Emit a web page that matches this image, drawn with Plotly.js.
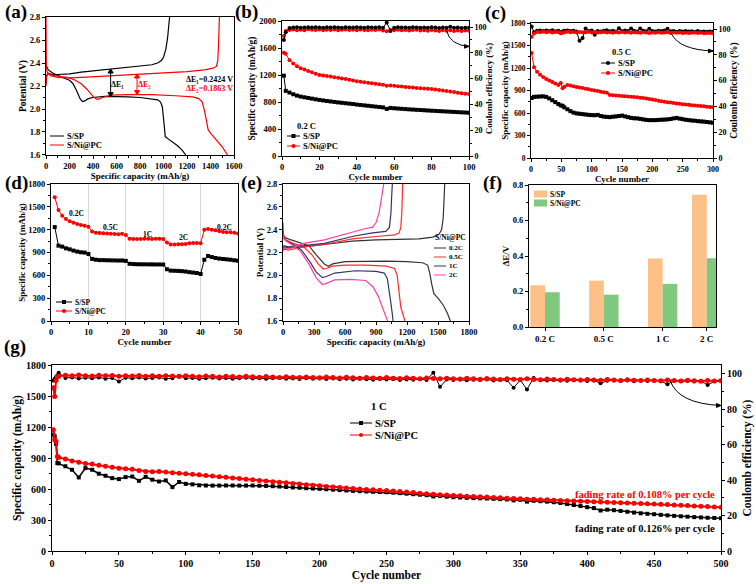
<!DOCTYPE html>
<html><head><meta charset="utf-8">
<script src="https://cdn.plot.ly/plotly-3.0.1.min.js"></script>
<style>html,body{margin:0;padding:0;background:#fff}#chart{width:756px;height:584px}</style>
</head><body><div id="chart"></div>
<script>
// ---------- (a) charge/discharge profiles at 0.2 C ----------
const aSpDisCap = [0, 20, 60, 100, 150, 200, 230, 260, 290, 310, 330, 360, 400, 500, 600, 700, 800, 900, 950, 975, 990, 1000, 1008, 1015, 1040, 1080, 1120, 1160, 1190];
const aSpDisV   = [2.38, 2.34, 2.31, 2.29, 2.27, 2.25, 2.22, 2.16, 2.09, 2.065, 2.07, 2.09, 2.10, 2.11, 2.11, 2.105, 2.10, 2.09, 2.08, 2.06, 2.02, 1.92, 1.80, 1.76, 1.74, 1.71, 1.68, 1.64, 1.60];
const aSpChgCap = [0, 5, 20, 60, 100, 200, 300, 400, 500, 600, 700, 800, 900, 950, 980, 1000, 1020, 1035, 1045, 1052];
const aSpChgV   = [2.22, 2.29, 2.31, 2.30, 2.30, 2.305, 2.32, 2.33, 2.34, 2.35, 2.36, 2.37, 2.385, 2.40, 2.42, 2.45, 2.52, 2.62, 2.72, 2.80];
const aNiDisCap = [0, 3, 10, 30, 80, 150, 200, 250, 300, 350, 400, 430, 450, 480, 550, 700, 900, 1100, 1250, 1300, 1330, 1350, 1365, 1380, 1400, 1450, 1500, 1545];
const aNiDisV   = [2.80, 2.36, 2.32, 2.30, 2.29, 2.28, 2.27, 2.25, 2.22, 2.17, 2.11, 2.085, 2.085, 2.10, 2.12, 2.125, 2.125, 2.115, 2.105, 2.09, 2.06, 1.98, 1.88, 1.82, 1.79, 1.73, 1.67, 1.60];
const aNiChgCap = [0, 5, 15, 40, 100, 200, 300, 400, 500, 600, 800, 1000, 1200, 1350, 1420, 1450, 1462, 1468, 1472, 1476];
const aNiChgV   = [2.20, 2.28, 2.31, 2.29, 2.275, 2.27, 2.275, 2.28, 2.29, 2.295, 2.305, 2.315, 2.325, 2.34, 2.355, 2.37, 2.42, 2.55, 2.68, 2.80];

// ---------- (b) cycling at 0.2 C ----------
const bCycles = [1,2,4,6,8,10,12,14,16,18,20,22,24,26,28,30,32,34,36,38,40,42,44,46,48,50,52,54,56,58,60,62,64,66,68,70,72,74,76,78,80,82,84,86,88,90,92,94,96,98,100];
const bSpCap = [1190,965,940,915,895,880,870,860,850,840,831,823,815,808,801,794,788,782,776,770,762,756,750,744,738,732,726,720,698,712,707,703,699,695,691,688,684,681,678,674,671,668,665,662,659,656,653,650,647,644,641];
const bNiCap = [1530,1515,1420,1370,1330,1300,1280,1260,1240,1220,1200,1192,1185,1176,1168,1160,1150,1140,1130,1118,1108,1100,1093,1086,1079,1072,1064,1056,1040,1046,1040,1034,1029,1024,1019,1014,1009,1004,1000,996,992,986,979,972,964,956,947,938,930,924,918];
const bSpCe = [90,96,99.3,99.6,99.8,99.5,99.7,99.9,99.6,99.8,99.7,99.5,99.8,99.6,99.9,99.7,99.5,99.8,99.6,99.7,99.9,99.6,99.5,99.8,99.7,99.6,99.9,99.4,103.5,97,99.5,99.8,99.6,99.7,99.5,99.8,99.6,99.4,99.7,99.5,99.8,99.6,99.3,99.7,99.5,100.2,99.4,99.6,99.3,99.5,99.4];
const bNiCe = [93,97,97.8,98.2,97.6,98.0,97.5,98.3,97.9,97.7,98.1,97.6,98.0,97.8,98.2,97.5,97.9,98.1,97.7,98.0,97.6,98.2,97.8,97.5,98.0,97.7,98.1,97.4,96.8,97.9,97.6,98.0,97.5,97.8,97.3,97.7,97.9,97.4,97.6,97.2,97.7,97.4,97.0,97.5,97.2,97.6,96.9,97.3,97.0,97.4,97.1];

// ---------- (c) cycling at 0.5 C ----------
const cCycles = [1,5,10,15,20,25,30,35,40,45,49,52,55,60,65,70,75,80,85,90,95,100,105,110,115,120,125,130,135,140,145,150,155,160,165,170,175,180,185,190,195,200,205,210,215,220,225,230,235,240,245,250,255,260,265,270,275,280,285,290,295,300];
const cSpCap = [800,815,818,820,822,815,795,770,745,720,702,695, 675,650,625,605,595,590,585,580,575,572, 570,575,560,552,548,545,550,555,560,565, 555,545,535,530,528,522,515,508,505,505, 505,508,510,512,515,520,528,535,525,518, 510,505,500,497,492,488,485,480,475,470];
const cNiCap = [1400,1210,1150,1110,1080,1055,1035,1015,995,975,1000,930, 950,975,968,958,948,940,932,924,916,908, 900,893,885,878,870,840,838,835,831,828, 825,821,818,814,810,805,800,794,788,780, 772,765,758,751,745,739,733,728,723,718, 714,710,705,701,697,693,689,685,681,678];
const cSpCe = [102,97.5,98.6,98.9,98.4,98.8,98.5,99.0,98.3,98.7,97.5,98.2, 98.6,98.9,98.4,98.7,98.2,91,93,100.5,98.4,98.8, 95.5,98.5,98.1,98.7,99.0,98.3,98.6,98.2,100.6,98.5, 98.8,98.4,100.5,98.6,98.2,100.4,98.7,98.3,100.3,98.5, 98.2,98.6,98.4,98.8,100.2,98.3,98.5,98.0,98.4,98.2, 98.5,98.1,98.3,98.0,98.4,97.9,98.2,98.0,98.1,97.9];
const cNiCe = [94,96.5,97.8,97.5,98.0,97.6,97.9,97.4,97.8,97.5,96.8,97.2, 97.6,97.9,97.5,97.7,97.3,97.8,97.5,97.6,97.9,97.4, 97.7,97.3,97.6,97.8,97.4,97.5,97.2,97.6,97.4,97.7, 97.3,97.5,97.2,97.6,97.4,97.1,97.5,97.3,97.0,97.4, 97.2,97.5,97.1,97.3,97.6,97.0,97.3,97.1,97.4,97.0, 97.2,96.9,97.1,97.3,96.9,97.1,96.8,97.0,96.9,96.8];

// ---------- (d) rate performance ----------
const dCycles = [1,2,3,4,5,6,7,8,9,10,11,12,13,14,15,16,17,18,19,20,21,22,23,24,25,26,27,28,29,30,31,32,33,34,35,36,37,38,39,40,41,42,43,44,45,46,47,48,49,50];
const dSpCap = [1234,990,977,955,942,925,912,903,899,881,816,805,800,800,798,797,796,795,795,790,752,748,746,745,745,744,744,743,743,742,680,662,660,658,655,650,642,636,630,618,805,855,840,828,820,815,810,805,798,792];
const dNiCap = [1625,1457,1383,1339,1310,1290,1275,1262,1252,1240,1175,1160,1155,1152,1150,1148,1142,1140,1145,1130,1080,1078,1078,1079,1080,1080,1079,1080,1080,1076,1030,1005,1005,1010,1008,1012,1020,1025,1025,1022,1198,1210,1200,1192,1180,1168,1165,1165,1160,1150];
const dRateLabels = ['0.2C','0.5C','1C','2C','0.2C'];
const dRateX = [6.7, 15.8, 25.7, 35.3, 46.3];
const dRateY = [1406, 1235, 1143, 1091, 1235];

// ---------- (e) S/Ni@PC profiles at different rates ----------
const eRates = ['0.2C','0.5C','1C','2C'];
const e02DisCap = [0,20,80,150,250,330,400,440,480,600,800,1000,1200,1350,1400,1420,1440,1460,1500,1550,1590,1620];
const e02DisV   = [2.36,2.33,2.31,2.29,2.26,2.17,2.10,2.08,2.10,2.12,2.125,2.125,2.12,2.11,2.09,2.02,1.92,1.84,1.80,1.74,1.67,1.60];
const e02ChgCap = [0,10,50,200,400,670,900,1100,1316,1450,1510,1535,1550,1558,1565];
const e02ChgV   = [2.23,2.25,2.24,2.25,2.27,2.30,2.31,2.315,2.32,2.335,2.36,2.40,2.50,2.65,2.80];
const e05DisCap = [0,5,30,100,200,280,340,390,420,480,600,800,1000,1080,1105,1115,1125,1140,1160,1180];
const e05DisV   = [2.46,2.35,2.31,2.28,2.25,2.18,2.10,2.055,2.06,2.08,2.09,2.09,2.08,2.06,2.0,1.90,1.80,1.72,1.66,1.60];
const e05ChgCap = [0,10,50,200,400,670,900,994,1080,1123,1140,1150,1155,1158];
const e05ChgV   = [2.21,2.23,2.22,2.25,2.27,2.32,2.34,2.345,2.355,2.37,2.42,2.55,2.70,2.80];
const e1DisCap = [0,30,100,180,260,320,380,420,500,700,900,980,1010,1030,1045,1058,1065];
const e1DisV   = [2.33,2.30,2.27,2.22,2.12,2.03,1.98,1.99,2.02,2.04,2.035,2.02,1.97,1.86,1.75,1.66,1.60];
const e1ChgCap = [0,10,50,200,400,670,850,994,1030,1045,1052,1058];
const e1ChgV   = [2.23,2.26,2.25,2.26,2.28,2.34,2.37,2.385,2.42,2.55,2.70,2.80];
const e2DisCap = [0,30,100,170,250,320,380,420,500,650,800,870,920,960,1000,1012];
const e2DisV   = [2.33,2.30,2.26,2.21,2.10,1.98,1.92,1.93,1.96,1.965,1.955,1.90,1.82,1.73,1.64,1.60];
const e2ChgCap = [0,10,50,200,400,550,670,800,865,900,930,950,965,975];
const e2ChgV   = [2.21,2.24,2.23,2.28,2.31,2.35,2.38,2.41,2.42,2.46,2.55,2.65,2.75,2.80];

// ---------- (f) polarization ----------
const fCats = ['0.2 C','0.5 C','1 C','2 C'];
const fSp = [0.235, 0.261, 0.386, 0.745];
const fNi = [0.196, 0.182, 0.243, 0.388];

// ---------- (g) long cycling at 1 C ----------
const gCycles = [1,2,3,4,5,10,15,20,25,30,35,40,45,50,55,60,65,70,75,80,85,90,95,100,105,110,115,120,125,130,135,140,145,150,155,160,165,170,175,180,185,190,195,200,205,210,215,220,225,230,235,240,245,250,255,260,265,270,275,280,285,290,295,300,305,310,315,320,325,330,335,340,345,350,355,360,365,370,375,380,385,390,395,400,405,410,415,420,425,430,435,440,445,450,455,460,465,470,475,480,485,490,495,500];
const gSpCap = [1126,1110,1038,851, 848,820,786,712,802,786,748,728,705,696, 715,721,679,718,690,673,683,618,668,650, 645,636,634,633,633,634,634,633,633,634, 632,630,627,624,619,615,612,608,605,602, 598,594,590,586,582,579,576,573,571,569, 565,560,555,550,545,540,528,532,526,521, 518,515,512,510,508,505,502,499,490,495, 478,486,482,478,472,465,455,445,435,424, 415,392,400,395,388,380,372,365,360,356, 350,345,340,336,332,328,325,322,320,317];
const gNiCap = [1174,1077,1060,915, 906,890,872,860,848,841,830,820,810,802, 797,792,780,770,768,770,765,757,752,747, 742,737,731,725,719,713,707,701,695,689, 683,677,671,665,660,654,648,642,637,631, 625,620,614,609,604,600,596,592,588,585, 580,575,570,565,560,555,550,545,541,537, 534,531,528,525,522,518,515,511,508,505, 502,500,497,495,492,489,487,484,482,479, 477,474,472,470,467,465,462,460,458,456, 452,449,446,443,440,436,433,430,427,424];
const gSpCe = [96,97,98,99, 100.5,97.5,97.8,97.2,97.6,97.4,97.8,97.1,97.5,95.5, 97.6,97.3,97.7,97.2,97.5,97.8,97.0,97.4,98.8,97.3, 97.5,97.1,97.4,97.6,97.2,97.5,97.0,97.3,97.6,97.2, 97.4,97.0,97.3,97.5,97.1,97.2,96.9,97.3,97.0,97.2, 96.9,97.2,96.8,97.1,96.7,97.0,96.8,96.5,96.9,96.6, 96.8,96.4,96.7,96.5,96.8,96.3,100.5,92.5,96.6,96.4, 96.6,96.2,96.5,96.3,96.6,96.1,96.4,96.2,92,96.3, 91,97.5,96.2,96.0,96.3,96.1,95.9,96.2,96.0,95.8, 96.1,94.5,95.9,96.1,95.8,96.0,95.7,96.0,95.8,96.1, 95.7,94,95.9,95.6,95.8,95.5,95.8,93.5,95.6,95.7];
const gNiCe = [92,87,96,98, 98.5,99.0,98.7,99.1,98.8,98.6,99.0,98.7,98.9,98.5, 98.8,98.6,98.9,98.5,98.7,98.4,98.8,98.6,98.3,98.7, 98.5,98.2,98.6,98.4,98.1,98.5,98.3,98.0,98.4,98.2, 97.9,98.3,98.0,97.8,98.2,97.9,97.7,98.1,97.8,97.6, 98.0,97.7,97.5,97.9,97.6,97.4,97.8,97.5,97.3,97.7, 97.4,97.2,97.6,97.3,97.1,97.5,97.2,97.0,97.4,97.1, 96.9,97.3,97.0,96.8,97.2,96.9,96.7,97.1,96.8,96.6, 97.0,96.7,96.5,96.9,96.6,96.4,96.8,96.5,96.3,96.7, 96.4,96.2,96.6,96.3,96.1,96.5,96.2,96.0,96.4,96.1, 95.9,96.3,96.0,95.8,96.2,95.9,95.7,96.1,95.8,96.0];

// ---------- drawing ----------
const W = 756, H = 584;
const px = v => v / W, py = v => 1 - v / H;
const FONT = '"Liberation Serif","Times New Roman",serif';
const BLACK = '#000000', RED = '#ff0000';
const eColors = ['#333333', '#ff2a2a', '#33336b', '#ff3f9f'];
const fColors = ['#fdc086', '#7fc97f'];
const fSlots = [0, 4, 8, 11];

const traces = [];
function curve(x, y, xa, ya, color, name) {
  traces.push({type:'scatter', mode:'lines', x, y, xaxis:xa, yaxis:ya, name, showlegend:false,
    line:{color, width:1.2}, hoverinfo:'skip'});
}
function series(x, y, xa, ya, color, symbol, name, size, lw) {
  traces.push({type:'scatter', mode:'lines+markers', x, y, xaxis:xa, yaxis:ya, name, showlegend:false,
    line:{color, width:lw || 1}, marker:{color, symbol, size:size || 4, line:{width:0}}, hoverinfo:'skip'});
}
// (a)
curve(aSpChgCap, aSpChgV, 'x', 'y', BLACK, 'S/SP');
curve(aSpDisCap, aSpDisV, 'x', 'y', BLACK, 'S/SP');
curve(aNiChgCap, aNiChgV, 'x', 'y', RED, 'S/Ni@PC');
curve(aNiDisCap, aNiDisV, 'x', 'y', RED, 'S/Ni@PC');
// (b)
series(bCycles, bNiCe, 'x2', 'y3', RED, 'circle', 'S/Ni@PC CE');
series(bCycles, bSpCe, 'x2', 'y3', BLACK, 'circle', 'S/SP CE');
series(bCycles, bSpCap, 'x2', 'y2', BLACK, 'square', 'S/SP');
series(bCycles, bNiCap, 'x2', 'y2', RED, 'circle', 'S/Ni@PC');
// (c)
series(cCycles, cSpCe, 'x3', 'y5', BLACK, 'circle', 'S/SP CE');
series(cCycles, cNiCe, 'x3', 'y5', RED, 'circle', 'S/Ni@PC CE');
series(cCycles, cSpCap, 'x3', 'y4', BLACK, 'square', 'S/SP');
series(cCycles, cNiCap, 'x3', 'y4', RED, 'circle', 'S/Ni@PC');
// (d)
series(dCycles, dSpCap, 'x4', 'y6', BLACK, 'square', 'S/SP');
series(dCycles, dNiCap, 'x4', 'y6', RED, 'circle', 'S/Ni@PC');
// (e)
const eDis = [[e02DisCap,e02DisV],[e05DisCap,e05DisV],[e1DisCap,e1DisV],[e2DisCap,e2DisV]];
const eChg = [[e02ChgCap,e02ChgV],[e05ChgCap,e05ChgV],[e1ChgCap,e1ChgV],[e2ChgCap,e2ChgV]];
eRates.forEach((r, i) => {
  curve(eChg[i][0], eChg[i][1], 'x5', 'y7', eColors[i], r);
  curve(eDis[i][0], eDis[i][1], 'x5', 'y7', eColors[i], r);
});
// (f)
traces.push({type:'bar', x:fSlots, y:fSp, xaxis:'x6', yaxis:'y8', name:'S/SP', width:1, offset:-1,
  marker:{color:fColors[0], line:{width:0}}, showlegend:false, customdata:fCats, hoverinfo:'skip'});
traces.push({type:'bar', x:fSlots, y:fNi, xaxis:'x6', yaxis:'y8', name:'S/Ni@PC', width:1, offset:0,
  marker:{color:fColors[1], line:{width:0}}, showlegend:false, customdata:fCats, hoverinfo:'skip'});
// (g)
series(gCycles, gSpCe, 'x7', 'y10', BLACK, 'circle', 'S/SP CE', 4);
series(gCycles, gNiCe, 'x7', 'y10', RED, 'circle', 'S/Ni@PC CE', 5, 2);
series(gCycles, gSpCap, 'x7', 'y9', BLACK, 'square', 'S/SP', 4, 1.5);
series(gCycles, gNiCap, 'x7', 'y9', RED, 'circle', 'S/Ni@PC', 5, 2);

// axes
function tfont(s) { return {family:FONT, size:s, color:BLACK, weight:'bold'}; }
function axis(o) {
  const base = {showline:true, linecolor:BLACK, linewidth:1, mirror:true, ticks:'outside', ticklen:3,
    tickwidth:1, tickcolor:BLACK, showgrid:false, zeroline:false, tickfont:tfont(o.fs || 8.5),
    fixedrange:true};
  if (o.minor) base.minor = {ticks:'outside', ticklen:2, tickcolor:BLACK, dtick:o.minor};
  if (o.title) base.title = {text:o.title, font:tfont(o.tfs || 9), standoff:o.so == null ? 1 : o.so};
  return Object.assign(base, o.ax);
}
const layout = {
  width:W, height:H, margin:{l:0, r:0, t:0, b:0}, paper_bgcolor:'#fff', plot_bgcolor:'#fff',
  showlegend:false, barmode:'overlay', font:{family:FONT, color:BLACK},
  // (a)
  xaxis: axis({title:'Specific capacity (mAh/g)', minor:100, ax:{domain:[px(46),px(234)], anchor:'y', range:[0,1600], dtick:200}}),
  yaxis: axis({title:'Potential (V)', tfs:9.5, minor:0.1, ax:{domain:[py(155),py(17)], anchor:'x', range:[1.5999,2.8001], dtick:0.2, tickformat:'.1f'}}),
  // (b)
  xaxis2: axis({title:'Cycle number', minor:10, ax:{domain:[px(282),px(469)], anchor:'y2', range:[0,100], dtick:20}}),
  yaxis2: axis({title:'Specific capacity (mAh/g)', tfs:9.5, minor:200, ax:{domain:[py(156),py(21)], anchor:'x2', range:[0,2000.1], dtick:400}}),
  yaxis3: axis({title:'Coulomb efficiency (%)', tfs:9, so:0, fs:8, minor:10, ax:{overlaying:'y2', side:'right', anchor:'x2', range:[0,104.7], dtick:20, mirror:false}}),
  // (c)
  xaxis3: axis({title:'Cycle number', fs:8, minor:25, ax:{domain:[px(531),px(713)], anchor:'y4', range:[0,300], dtick:50}}),
  yaxis4: axis({title:'Specific capacity (mAh/g)', tfs:9, so:0, fs:7.5, minor:150, ax:{domain:[py(158),py(23)], anchor:'x3', range:[0,1800.1], dtick:300}}),
  yaxis5: axis({title:'Coulomb efficiency (%)', tfs:9.5, so:0, fs:8, minor:10, ax:{overlaying:'y4', side:'right', anchor:'x3', range:[0,104.7], dtick:20, mirror:false}}),
  // (d)
  xaxis4: axis({title:'Cycle number', minor:5, ax:{domain:[px(51),px(238)], anchor:'y6', range:[0,50], dtick:10, showgrid:true, gridcolor:'#d8d8d8', gridwidth:1}}),
  yaxis6: axis({title:'Specific capacity (mAh/g)', minor:150, ax:{domain:[py(321),py(184)], anchor:'x4', range:[0,1800.1], dtick:300}}),
  // (e)
  xaxis5: axis({title:'Specific capacity (mAh/g)', minor:150, ax:{domain:[px(283),px(469)], anchor:'y7', range:[0,1800], dtick:300}}),
  yaxis7: axis({title:'Potential (V)', minor:0.1, ax:{domain:[py(321),py(184)], anchor:'x5', range:[1.5999,2.8001], dtick:0.2, tickformat:'.1f'}}),
  // (f)
  xaxis6: axis({fs:9, ax:{domain:[px(529),px(716)], anchor:'y8', range:[-1.09,11.63], tickvals:fSlots, ticktext:fCats}}),
  yaxis8: axis({title:'ΔE/V', minor:0.1, ax:{domain:[py(327),py(185)], anchor:'x6', range:[0,0.8001], dtick:0.2, tickformat:'.1f'}}),
  // (g)
  xaxis7: axis({title:'Cycle number', fs:10, tfs:11.5, minor:25, ax:{domain:[px(52),px(721)], anchor:'y9', range:[0,500], dtick:50}}),
  yaxis9: axis({title:'Specific capacity (mAh/g)', fs:10, tfs:11.5, minor:150, ax:{domain:[py(551),py(365)], anchor:'x7', range:[0,1800.1], dtick:300}}),
  yaxis10: axis({title:'Coulomb efficiency (%)', fs:10, tfs:11.5, minor:10, ax:{overlaying:'y9', side:'right', anchor:'x7', range:[0,104.8], dtick:20, mirror:false}}),
  shapes:[], annotations:[]
};
const S = layout.shapes, A = layout.annotations;
function txt(text, x, y, o) {
  A.push(Object.assign({text, x, y, xref:'paper', yref:'paper', showarrow:false, xanchor:'center', yanchor:'middle',
    borderpad:0, font:tfont(9)}, o || {}));
}
// panel labels
[['(a)',16,12],['(b)',246,12],['(c)',495,13],['(d)',16,183],['(e)',251,183],['(f)',492,183],['(g)',15,347]]
  .forEach(([t,x,y]) => txt(t, px(x), py(y), {font:tfont(19)}));

// manual legends
function legendItem(x0, x1, y, color, symbol, label, fs) {
  S.push({type:'line', xref:'paper', yref:'paper', x0:px(x0), x1:px(x1), y0:py(y), y1:py(y), line:{color, width:1}});
  const m = (x0 + x1) / 2, r = 2;
  if (symbol) S.push({type:symbol === 'square' ? 'rect' : 'circle', xref:'paper', yref:'paper',
    x0:px(m - r), x1:px(m + r), y0:py(y + r), y1:py(y - r), fillcolor:color, line:{width:0}});
  txt(label, px(x1 + 2), py(y), {xanchor:'left', font:tfont(fs)});
}
// (a)
legendItem(50, 64, 136, BLACK, null, 'S/SP', 8.5);
legendItem(50, 64, 145, RED, null, 'S/Ni@PC', 8.5);
// (b)
txt('0.2 C', px(306), py(126), {font:tfont(8.5)});
legendItem(287, 300, 136, BLACK, 'square', 'S/SP', 8.5);
legendItem(287, 300, 146, RED, 'circle', 'S/Ni@PC', 8.5);
// (c)
txt('0.5 C', px(621), py(52), {font:tfont(8.5)});
legendItem(601, 615, 63, BLACK, 'circle', 'S/SP', 8.5);
legendItem(601, 615, 73, RED, 'circle', 'S/Ni@PC', 8.5);
// (d)
legendItem(56, 72, 302, BLACK, 'square', 'S/SP', 7.5);
legendItem(56, 72, 311, RED, 'circle', 'S/Ni@PC', 7.5);
dRateLabels.forEach((t, i) => A.push({text:t, x:dRateX[i], y:dRateY[i], xref:'x4', yref:'y6', showarrow:false, borderpad:0, font:tfont(7.5)}));
// (e)
txt('S/Ni@PC', px(451), py(238), {font:tfont(7.5)});
[248, 257, 266, 275].forEach((y, i) => legendItem(434, 446, y, eColors[i], null, eRates[i], 7));
// (f)
[['S/SP',194],['S/Ni@PC',203]].forEach(([t, y], i) => {
  S.push({type:'rect', xref:'paper', yref:'paper', x0:px(534), x1:px(547), y0:py(y + 3.5), y1:py(y - 3.5), fillcolor:fColors[i], line:{width:0}});
  txt(t, px(549), py(y), {xanchor:'left', font:tfont(7.5)});
});
// (g)
txt('1 C', px(379), py(406), {font:tfont(10.5)});
legendItem(350, 372, 423, BLACK, 'square', 'S/SP', 10.5);
legendItem(350, 372, 435, RED, 'circle', 'S/Ni@PC', 10.5);
txt('fading rate of 0.108% per cycle', px(716), py(494), {xanchor:'right', font:Object.assign(tfont(10.5), {color:RED})});
txt('fading rate of 0.126% per cycle', px(716), py(528), {xanchor:'right', font:tfont(10.5)});

// (a) polarization double arrows (line + two heads), drawn as shapes in data coordinates
function dblArrow(x, y0, y1, color) {
  const hx = 22, hy = 0.035;
  S.push({type:'line', xref:'x', yref:'y', x0:x, x1:x, y0, y1, line:{color, width:1}});
  S.push({type:'path', xref:'x', yref:'y', path:`M ${x-hx},${y1-hy} L ${x},${y1} L ${x+hx},${y1-hy} Z`, fillcolor:color, line:{color, width:1}});
  S.push({type:'path', xref:'x', yref:'y', path:`M ${x-hx},${y0+hy} L ${x},${y0} L ${x+hx},${y0+hy} Z`, fillcolor:color, line:{color, width:1}});
}
dblArrow(550, 2.107, 2.348, BLACK);
dblArrow(775, 2.125, 2.305, RED);
A.push({text:'ΔE₁', x:612, y:2.21, xref:'x', yref:'y', showarrow:false, borderpad:0, font:tfont(8)});
A.push({text:'ΔE₂', x:840, y:2.21, xref:'x', yref:'y', showarrow:false, borderpad:0, font:Object.assign(tfont(8), {color:RED})});
A.push({text:'ΔE₁=0.2424 V', x:1395, y:2.258, xref:'x', yref:'y', showarrow:false, borderpad:0, font:tfont(8)});
A.push({text:'ΔE₂=0.1863 V', x:1395, y:2.18, xref:'x', yref:'y', showarrow:false, borderpad:0, font:Object.assign(tfont(8), {color:RED})});

// curved arrows pointing to the CE axis (curve + small head)
function curvedArrow(path, xr, yr, ex, ey, hx, hy) {
  S.push({type:'path', xref:xr, yref:yr, path, line:{color:BLACK, width:1}});
  S.push({type:'path', xref:xr, yref:yr, path:`M ${ex},${ey} L ${ex-hx},${ey+hy} L ${ex-hx},${ey-hy} Z`, fillcolor:BLACK, line:{color:BLACK, width:1}});
}
curvedArrow('M 88,97 Q 90,86 100,85', 'x2', 'y3', 100, 85, 2.4, 1.4);
curvedArrow('M 232,96 Q 245,84 300,83', 'x3', 'y5', 300, 83, 7.4, 1.4);
curvedArrow('M 462,96 Q 468,83 500,82', 'x7', 'y10', 500, 82, 3.4, 1.1);

Plotly.newPlot('chart', traces, layout, {staticPlot:true, displayModeBar:false});
</script></body></html>
